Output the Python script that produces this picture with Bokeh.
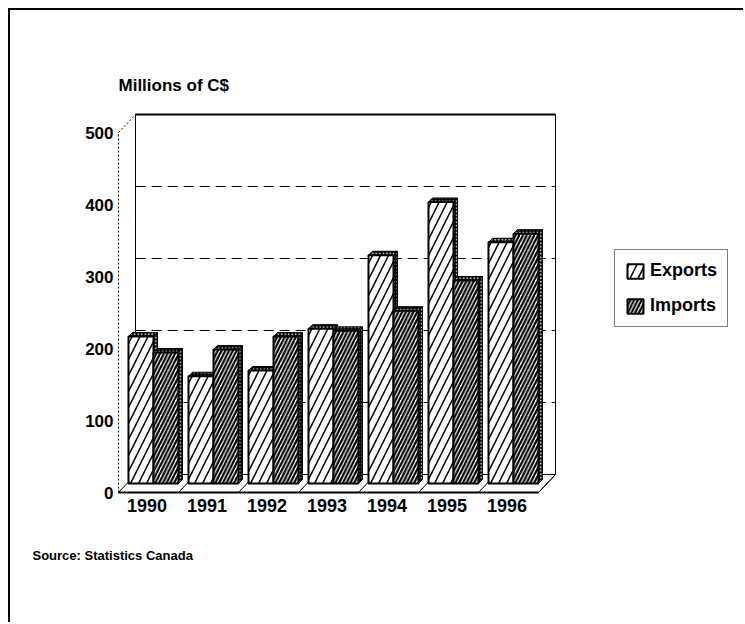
from bokeh.plotting import figure
from bokeh.models import (Range1d, FixedTicker, Title, Legend, LegendItem, ColumnDataSource)
from bokeh.embed import file_html
from bokeh.resources import INLINE

# ---- data ----
years = ["1990", "1991", "1992", "1993", "1994", "1995", "1996"]
exports = [204, 149, 157, 215, 317, 391, 335]
imports = [182, 186, 204, 212, 240, 282, 347]
y_ticks = [0, 100, 200, 300, 400, 500]
grid_levels = [100, 200, 300, 400]

FONT = "Liberation Sans"

# ---- geometry (pixel scales of the pseudo-3D drawing) ----
PXU = 60.0      # px per category unit
PYU = 0.72      # px per value unit
def ux(px): return px / PXU
def uy(px): return px / PYU

x_front0 = -0.475                 # front-left corner of floor (category units)
x_front1 = x_front0 + len(years)  # front-right corner
wall_dx, wall_dy = ux(17), uy(18) # depth of the chart box
bar_dy = uy(9)                    # bars stand in the middle of the depth
bar_off = [ux(-18.5), ux(6.5)]    # front-face left of exports / imports
bar_w = ux(25)
cap_dx, cap_dy = ux(4), uy(4)     # depth of the bars
top_val = y_ticks[-1]

# frame placement (page px); figure content starts at page (10, 10)
ORG = 10
FL, FR, FT, FB = 116, 740, 95, 496
X0_PAGE, Y0_PAGE = 118, 492
xs = x_front0 - ux(X0_PAGE - FL)
ys = -uy(FB - Y0_PAGE)
W, H = 735, 614
p = figure(width=W, height=H,
           x_range=Range1d(xs, xs + ux(FR - FL)),
           y_range=Range1d(ys, ys + uy(FB - FT)),
           output_backend="svg", toolbar_location=None,
           min_border_left=FL - ORG, min_border_right=ORG + W - FR,
           min_border_top=FT - ORG, min_border_bottom=ORG + H - FB)
p.styles = {"margin-left": "8px", "margin-top": "8px",
            "border-top": "2px solid black", "border-left": "2px solid black"}
p.grid.visible = False
p.outline_line_color = None
p.background_fill_color = "white"
p.border_fill_color = "white"

# ---- box (back wall, floor) ----
bx0, bx1 = x_front0 + wall_dx, x_front1 + wall_dx
p.segment(x0=[bx0] * len(grid_levels), y0=[v + wall_dy for v in grid_levels],
          x1=[bx1] * len(grid_levels), y1=[v + wall_dy for v in grid_levels],
          line_color="black", line_width=1, line_dash="10 6")
p.segment(x0=[bx0, bx1, bx0, bx0], y0=[wall_dy, wall_dy, top_val + wall_dy, wall_dy],
          x1=[bx0, bx1, bx1, bx1], y1=[top_val + wall_dy, top_val + wall_dy, top_val + wall_dy, wall_dy],
          line_color="black", line_width=[1, 1, 2, 1])
sep_x = [x_front0 + k for k in range(len(years) + 1)]
p.segment(x0=sep_x, y0=[0] * len(sep_x), x1=[x + wall_dx for x in sep_x], y1=[wall_dy] * len(sep_x),
          line_color="black", line_width=1)
p.segment(x0=[x_front0, x_front0], y0=[0, top_val], x1=[x_front0, bx0], y1=[top_val, top_val + wall_dy],
          line_color="black", line_width=1, line_dash="2 2")

# ---- bars ----
def bar_sources(vals, off):
    left = [i + off for i in range(len(vals))]
    right = [l + bar_w for l in left]
    bottom = [bar_dy] * len(vals)
    top = [v + bar_dy for v in vals]
    side_x = [[r, r + cap_dx, r + cap_dx, r] for r in right]
    side_y = [[b, b + cap_dy, t + cap_dy, t] for b, t in zip(bottom, top)]
    cap_x = [[l, l + cap_dx, r + cap_dx, r] for l, r in zip(left, right)]
    cap_y = [[t, t + cap_dy, t + cap_dy, t] for t in top]
    return (ColumnDataSource(dict(left=left, right=right, bottom=bottom, top=top)),
            ColumnDataSource(dict(xs=side_x + cap_x, ys=side_y + cap_y)))

renderers = []
for vals, off, scale, weight in [(exports, bar_off[0], 16, 1.5), (imports, bar_off[1], 7.5, 2.2)]:
    front, faces = bar_sources(vals, off)
    p.patches("xs", "ys", source=faces, fill_color="black", line_color="black", line_width=1,
              hatch_pattern=".", hatch_color="white", hatch_scale=3.5, hatch_weight=1)
    r = p.quad(left="left", right="right", bottom="bottom", top="top", source=front,
               fill_color="white", line_color="black", line_width=2,
               hatch_pattern="/", hatch_color="black", hatch_scale=scale, hatch_weight=weight)
    renderers.append(r)

p.segment(x0=[x_front0, x_front1], y0=[0, 0], x1=[x_front1, x_front1 + wall_dx], y1=[0, wall_dy],
          line_color="black", line_width=[2, 1])

# ---- axes ----
p.yaxis.ticker = FixedTicker(ticks=y_ticks)
p.yaxis.axis_line_color = None
p.yaxis.major_tick_line_color = None
p.yaxis.minor_tick_line_color = None
p.yaxis.major_tick_out = 0
p.yaxis.major_tick_in = 0
p.yaxis.minor_tick_out = 0
p.yaxis.major_label_standoff = 3
p.yaxis.major_label_text_font = FONT
p.yaxis.major_label_text_font_style = "bold"
p.yaxis.major_label_text_font_size = "17px"
p.yaxis.major_label_text_color = "black"

p.xaxis.ticker = FixedTicker(ticks=list(range(len(years))))
p.xaxis.major_label_overrides = {i: y for i, y in enumerate(years)}
p.xaxis.axis_line_color = None
p.xaxis.major_tick_line_color = None
p.xaxis.minor_tick_line_color = None
p.xaxis.major_tick_out = 0
p.xaxis.major_tick_in = 0
p.xaxis.minor_tick_out = 0
p.xaxis.major_label_standoff = 2
p.xaxis.major_label_text_font = FONT
p.xaxis.major_label_text_font_style = "bold"
p.xaxis.major_label_text_font_size = "18px"
p.xaxis.major_label_text_color = "black"

# ---- texts ----
p.add_layout(Title(text="Millions of C$", align="left", offset=X0_PAGE - FL, standoff=2,
                   text_font=FONT, text_font_style="bold", text_font_size="17px",
                   text_color="black"), "above")
p.add_layout(Title(text="Source: Statistics Canada", align="left", offset=32 - FL, standoff=62,
                   text_font=FONT, text_font_style="bold", text_font_size="13px",
                   text_color="black"), "below")

# ---- legend ----
legend = Legend(items=[LegendItem(label="Exports", renderers=[renderers[0]]),
                       LegendItem(label="Imports", renderers=[renderers[1]])],
                location=(614 - FL, FB - 327),
                border_line_color="black", border_line_width=1.5,
                background_fill_alpha=1, padding=10, spacing=14, margin=0,
                glyph_width=20, glyph_height=18, label_standoff=5,
                label_text_font=FONT, label_text_font_style="bold",
                label_text_font_size="18px", label_text_color="black")
p.add_layout(legend)

open("out.html", "w").write(file_html(p, INLINE))
